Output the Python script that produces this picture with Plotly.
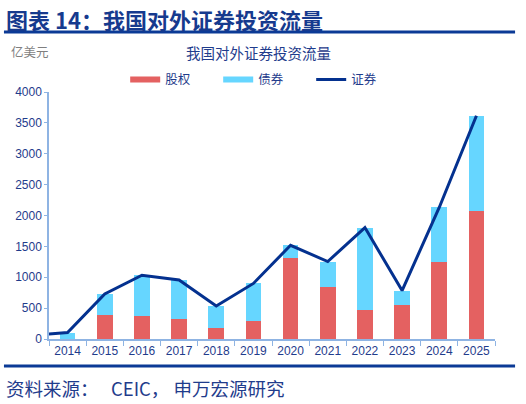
import plotly.graph_objects as go

# 数据（亿美元），2013年只用来让折线从坐标轴左边开始
years = ['2013', '2014', '2015', '2016', '2017', '2018', '2019',
         '2020', '2021', '2022', '2023', '2024', '2025']
equity = [None, 0, 395, 378, 330, 175, 295, 1313, 849, 476, 546, 1249, 2081]
bond = [None, 105, 335, 655, 625, 360, 605, 205, 405, 1329, 238, 881, 1535]
securities = [60, 105, 730, 1033, 955, 535, 900, 1518, 1254, 1805, 784, 2130, 3616]

red = '#E46161'
cyan = '#66D6FF'
navy = '#04318F'
txt = '#1F3C8C'

fig = go.Figure()

fig.add_trace(go.Bar(x=years, y=equity, name='股权', marker_color=red,
                     marker_line_width=0, width=0.42, showlegend=False))
fig.add_trace(go.Bar(x=years, y=bond, name='债券', marker_color=cyan,
                     marker_line_width=0, width=0.42, showlegend=False))
fig.add_trace(go.Scatter(x=years, y=securities, name='证券', mode='lines',
                         line=dict(color=navy, width=3), showlegend=False))

# legend entries drawn as short thick lines like the original
for nm, c, w in [('股权', red, 6), ('债券', cyan, 6), ('证券', navy, 3)]:
    fig.add_trace(go.Scatter(x=[None], y=[None], mode='lines', name=nm,
                             line=dict(color=c, width=w)))

fig.update_layout(
    width=526, height=404,
    barmode='stack',
    paper_bgcolor='white', plot_bgcolor='white',
    margin=dict(l=49, r=31, t=92, b=65, autoexpand=False),
    font=dict(family='Noto Sans CJK SC, Liberation Sans, sans-serif', color=txt, size=12),
    legend=dict(orientation='h', xref='container', yref='container',
                x=0.238, xanchor='left', y=0.802, yanchor='middle',
                font=dict(size=12.5, color=txt), itemwidth=30,
                entrywidth=48, entrywidthmode='pixels', traceorder='normal'),
)

fig.update_xaxes(type='category', range=[0.5, 12.5], showline=True,
                 linecolor='#8FB4E3', linewidth=1.5, ticks='outside',
                 tickson='boundaries', ticklen=5, tickcolor='#8FB4E3',
                 showgrid=False,
                 tickfont=dict(family='Liberation Sans, Arial', size=12, color=txt))
fig.update_yaxes(range=[0, 4000], dtick=500, showline=True,
                 linecolor='#8FB4E3', linewidth=1.5, ticks='outside',
                 ticklen=3, tickcolor='#8FB4E3', showgrid=False, zeroline=False,
                 tickfont=dict(family='Liberation Sans, Arial', size=12, color=txt))

# header / footer
fig.add_annotation(text='<b>图表 14：我国对外证券投资流量</b>', xref='paper', yref='paper',
                   x=-0.102, y=1.295, xanchor='left', yanchor='middle',
                   showarrow=False, font=dict(size=22, color='#163A8E'))
fig.add_shape(type='line', xref='paper', yref='paper', x0=-0.101, x1=1.045,
              y0=1.243, y1=1.243, line=dict(color='#0B3A96', width=3))
fig.add_annotation(text='我国对外证券投资流量', xref='paper', yref='paper',
                   x=0.469, y=1.158, xanchor='center', yanchor='middle',
                   showarrow=False, font=dict(size=14.5, color=txt))
fig.add_annotation(text='亿美元', xref='paper', yref='paper',
                   x=-0.09, y=1.162, xanchor='left', yanchor='middle',
                   showarrow=False, font=dict(size=12.5, color='#7F7F7F'))
fig.add_shape(type='line', xref='paper', yref='paper', x0=-0.101, x1=1.045,
              y0=-0.109, y1=-0.109, line=dict(color='#0B3A96', width=3))
fig.add_annotation(text='资料来源：   CEIC， 申万宏源研究', xref='paper', yref='paper',
                   x=-0.1, y=-0.198, xanchor='left', yanchor='middle',
                   showarrow=False, font=dict(size=18.5, color=txt))

# page body has an 8px default margin, drop it so the figure sits at 0,0
fig.write_html('out.html', config={'displayModeBar': False},
               post_script="document.body.style.margin='0px';")
